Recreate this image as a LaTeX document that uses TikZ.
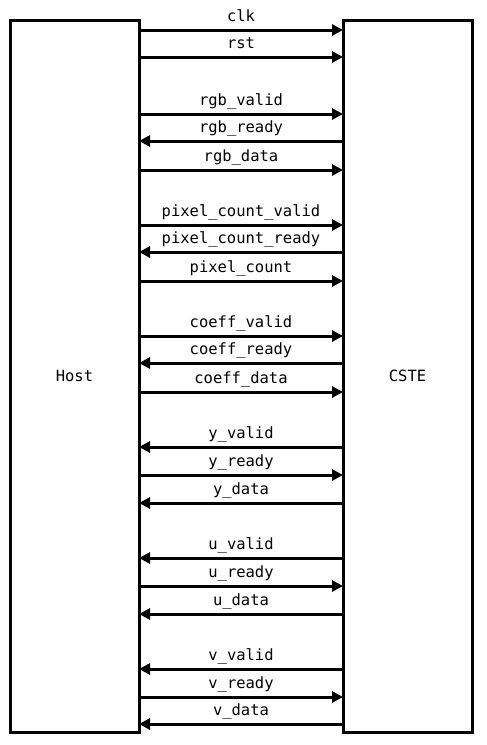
\documentclass[tikz,border=0pt]{standalone}
\usepackage{fontspec}
\setmonofont{DejaVu Sans Mono}
\usetikzlibrary{arrows.meta, positioning}
\tikzset{
  block/.style={draw, line width=3pt, rectangle, minimum width=129pt, minimum height=712pt, outer sep=0pt, font=\ttfamily\fontsize{15.5}{18}\selectfont},
  tocste/.style={line width=3pt, -{Triangle[length=11pt,width=11pt]}},
  tohost/.style={line width=3pt, {Triangle[length=11pt,width=11pt]}-},
  siglabel/.style={anchor=base, inner sep=0pt, yshift=9pt, font=\ttfamily\fontsize{15.5}{18}\selectfont}
}
\begin{document}
\begin{tikzpicture}[x=1pt,y=-1pt]
\useasboundingbox (0,0) rectangle (487,745);

\node[block] (host) at (74.5,376) {Host};
\node[block] (cste) at (407.5,376) {CSTE};

% handshake signals between the two blocks
\foreach \y/\name/\dir in {30/clk/tocste, 57/rst/tocste,
    114/rgb\_valid/tocste, 141/rgb\_ready/tohost, 170/rgb\_data/tocste,
    225/pixel\_count\_valid/tocste, 252/pixel\_count\_ready/tohost, 281/pixel\_count/tocste,
    336/coeff\_valid/tocste, 363/coeff\_ready/tohost, 392/coeff\_data/tocste,
    447/y\_valid/tohost, 475/y\_ready/tocste, 503/y\_data/tohost,
    558/u\_valid/tohost, 586/u\_ready/tocste, 614/u\_data/tohost,
    669/v\_valid/tohost, 697/v\_ready/tocste, 724/v\_data/tohost}{
  \coordinate (h\y) at (host.east |- 0,\y);
  \coordinate (c\y) at (cste.west |- 0,\y);
  \draw[\dir] (h\y) -- node[siglabel] (s\y) {\name} (c\y);
}
\end{tikzpicture}
\end{document}
